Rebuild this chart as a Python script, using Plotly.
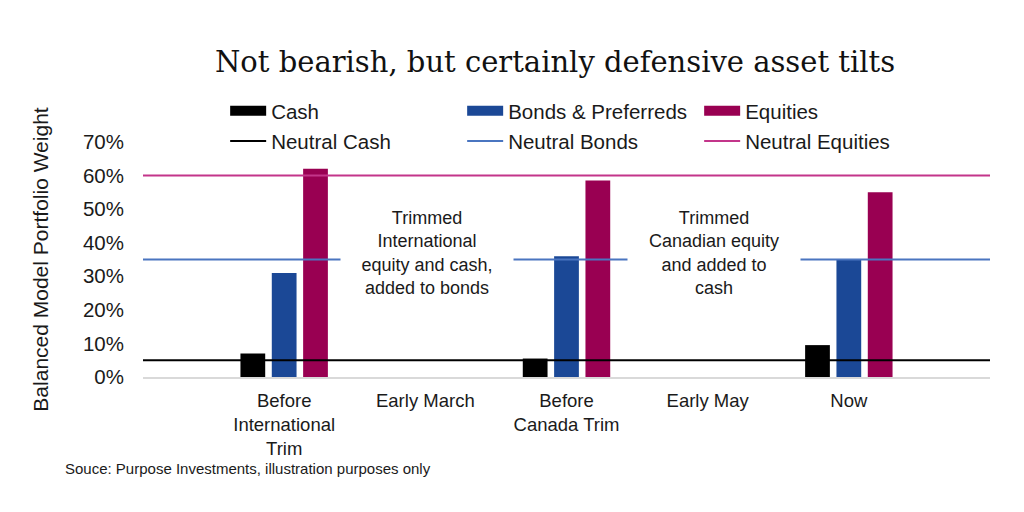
import plotly.graph_objects as go

# categories on the x axis
periods = ["Before<br>International<br>Trim", "Early March", "Before<br>Canada Trim", "Early May", "Now"]

# balanced model weights (%), None where no bars are drawn
cash = [7, None, 5.5, None, 9.5]
bonds = [31, None, 36, None, 35]
equities = [62, None, 58.5, None, 55]

# neutral weights (%)
neutral_cash = 5
neutral_bonds = 35
neutral_equities = 60

notes = ["Trimmed<br>International<br>equity and cash,<br>added to bonds",
         "Trimmed<br>Canadian equity<br>and added to<br>cash"]
note_at = ["Early March", "Early May"]

tick_vals = [0, 10, 20, 30, 40, 50, 60, 70]
tick_text = [f"{v}%" for v in tick_vals]

c_cash = "#000000"
c_bonds = "#1B4896"
c_eq = "#990052"
c_nbonds = "#4A75C0"
c_neq = "#C3358A"

font = "Liberation Sans, Arial, sans-serif"
txt = "#1a1a1a"

fig = go.Figure()

# bars
for name, vals, col in [("Cash", cash, c_cash),
                        ("Bonds & Preferreds", bonds, c_bonds),
                        ("Equities", equities, c_eq)]:
    fig.add_trace(go.Bar(x=periods, y=vals, name=name, marker_color=col,
                         marker_line_width=0, showlegend=False))

# legend proxies for the bars (wide rectangles)
for name, col in [("Cash", c_cash), ("Bonds & Preferreds", c_bonds), ("Equities", c_eq)]:
    fig.add_trace(go.Scatter(x=[None], y=[None], xaxis="x2", mode="lines",
                             line=dict(color=col, width=12), name=name,
                             legend="legend"))

# neutral lines drawn across the full width
for name, val, col in [("Neutral Cash", neutral_cash, c_cash),
                       ("Neutral Bonds", neutral_bonds, c_nbonds),
                       ("Neutral Equities", neutral_equities, c_neq)]:
    fig.add_trace(go.Scatter(x=[0, 1], y=[val, val], xaxis="x2", mode="lines",
                             line=dict(color=col, width=2), name=name,
                             legend="legend2", hoverinfo="skip"))

for text, xc, shift in zip(notes, note_at, [2, 6]):
    fig.add_annotation(x=xc, y=37, xref="x", yref="y", text=text, showarrow=False,
                       xshift=shift, width=170, align="center", bgcolor="white",
                       font=dict(family=font, size=18, color=txt))

fig.add_annotation(x=-0.0945, y=-0.391, xref="paper", yref="paper",
                   xanchor="left", yanchor="middle", showarrow=False,
                   text="Souce: Purpose Investments, illustration purposes only",
                   font=dict(family=font, size=15, color=txt))

leg_common = dict(orientation="h", xanchor="left", yanchor="middle",
                  font=dict(family=font, size=20.5, color=txt),
                  itemwidth=36, entrywidth=186, bgcolor="rgba(0,0,0,0)",
                  traceorder="normal", itemclick=False)

fig.update_layout(
    width=1024, height=512,
    paper_bgcolor="white", plot_bgcolor="white",
    margin=dict(l=135, r=42, t=134, b=143),
    barmode="group", bargap=0.334, bargroupgap=0.21,
    title=dict(text="Not bearish, but certainly defensive asset tilts",
               x=547 / 1024, xanchor="center", xref="container",
               y=1 - 54 / 512, yanchor="middle", yref="container",
               font=dict(family="DejaVu Serif, serif", size=29, color="#111")),
    font=dict(family=font, size=20, color=txt),
    legend=dict(x=0.097, y=1.132, **leg_common),
    legend2=dict(x=0.097, y=1.004, **leg_common),
    xaxis=dict(type="category", categoryorder="array", categoryarray=periods,
               range=[-1, len(periods)], showline=True, linecolor="#d9d9d9",
               linewidth=1.5, ticks="", showgrid=False, zeroline=False,
               ticklabelstandoff=6,
               tickfont=dict(family=font, size=18.5, color=txt)),
    xaxis2=dict(overlaying="x", range=[0, 1], visible=False, fixedrange=True),
    yaxis=dict(range=[0, 70], tickvals=tick_vals, ticktext=tick_text,
               showgrid=False, zeroline=False, showline=False, ticks="",
               ticklabelstandoff=18,
               tickfont=dict(family=font, size=20.5, color=txt),
               title=dict(text="Balanced Model Portfolio Weight", standoff=28,
                          font=dict(family=font, size=21, color=txt))),
)

fig.write_html("out.html")
